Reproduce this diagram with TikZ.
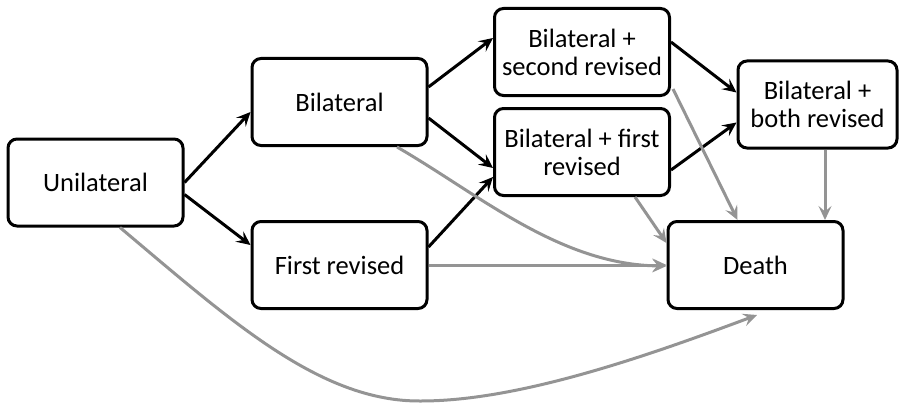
\documentclass[tikz,border=0pt]{standalone}
\usepackage{fontspec}
\setmainfont{Carlito}
\usetikzlibrary{arrows.meta,calc}

\begin{document}
\begin{tikzpicture}[x=1pt,y=-1pt,
        box/.style={draw, line width=3pt, rounded corners=9pt, minimum width=175pt, minimum height=87pt,
            align=center, inner sep=2pt, font=\fontsize{26.5}{28}\selectfont},
        fw/.style={line width=3pt, -{Stealth[length=14pt,width=13pt,inset=5.5pt]}},
        gr/.style={fw, draw=black!42}]
    \useasboundingbox (0,0) rectangle (907,404);
    % states
    \node[box] (U) at (95.5,182.5) {Unilateral};
    \node[box] (B) at (339.5,102) {Bilateral};
    \node[box] (F) at (339.5,265) {First revised};
    \node[box] (BS) at (582,52) {Bilateral +\\second revised};
    \node[box] (BF) at (582,152) {Bilateral + first\\revised};
    \node[box, minimum width=159pt] (BB) at (817.5,104.5) {Bilateral +\\both revised};
    \node[box] (D) at (755.5,265) {Death};
    % transitions
    \draw[fw] (U.east) -- ($(B.west)+(0,10)$);
    \draw[fw] ($(U.east)+(0,12)$) -- ($(F.west)+(0,-20)$);
    \draw[fw] ($(B.east)+(0,-15)$) -- ($(BS.west)+(0,-14)$);
    \draw[fw] ($(B.east)+(0,16)$) -- ($(BF.west)+(0,16)$);
    \draw[fw] ($(F.east)+(0,-18)$) -- ($(BF.west)+(0,25)$);
    \draw[fw] ($(BS.east)+(0,-10)$) -- ($(BB.west)+(0,-12)$);
    \draw[fw] ($(BF.east)+(0,18)$) -- ($(BB.west)+(0,18)$);
    % deaths
    \draw[gr] ($(BS.south east)+(2,-8)$) -- ($(D.north)+(-18,0)$);
    \draw[gr] ($(BB.south)+(7.5,0)$) -- ($(D.north)+(69.5,0)$);
    \draw[gr] ($(BF.south)+(53,0)$) -- ($(D.west)+(0,-22)$);
    \draw[gr] (F.east) -- (D.west);
    \draw[gr] ($(B.south)+(57.5,0)$) .. controls (480,195) and (560,265) .. ($(D.west)+(0,1)$);
    \draw[gr] ($(U.south)+(24.5,0)$) .. controls (230,320) and (320,402) .. (421,401)
        .. controls (520,401) and (650,355) .. ($(D.south)+(1.5,5)$);
\end{tikzpicture}
\end{document}
